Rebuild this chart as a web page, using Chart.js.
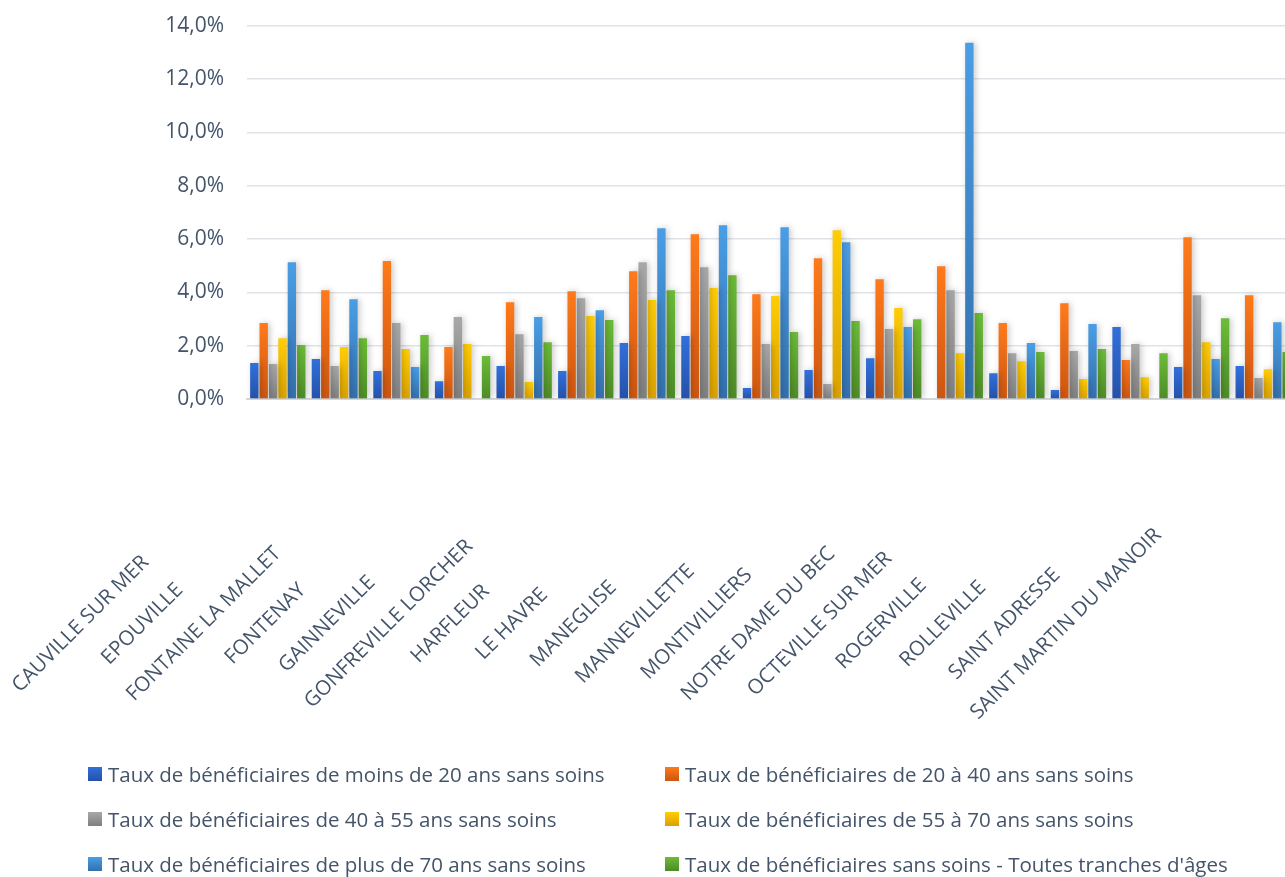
<!DOCTYPE html>
<html lang="fr">
<head>
<meta charset="utf-8">
<title>Taux de bénéficiaires sans soins</title>
<script src="https://cdn.jsdelivr.net/npm/chart.js@4/dist/chart.umd.min.js"></script>
<style>
  html, body { margin: 0; padding: 0; background: #fff; overflow: hidden; }
  #wrap { position: relative; width: 1285px; height: 877px; overflow: hidden; }
  /* le canvas déborde un peu en haut et à droite */
  #chartBox { position: absolute; left: 0; top: -10px; width: 1300px; height: 887px; }
  #legend { position: absolute; left: 0; top: 0; width: 1285px; height: 877px; pointer-events: none; }
  .leg-item { position: absolute; display: flex; align-items: center; font: 20.5px "Open Sans", sans-serif; color: #44546a; white-space: nowrap; transform: translateY(-50%); }
  .leg-box { width: 14px; height: 14px; margin-right: 6px; }
</style>
</head>
<body>
<div id="wrap">
  <div id="chartBox"><canvas id="chart"></canvas></div>
  <div id="legend"></div>
</div>
<script>
const textColor = '#44546a';

const communes = [
    'CAUVILLE SUR MER', 'EPOUVILLE', 'FONTAINE LA MALLET', 'FONTENAY', 'GAINNEVILLE',
    'GONFREVILLE LORCHER', 'HARFLEUR', 'LE HAVRE', 'MANEGLISE', 'MANNEVILLETTE',
    'MONTIVILLIERS', 'NOTRE DAME DU BEC', 'OCTEVILLE SUR MER', 'ROGERVILLE',
    'ROLLEVILLE', 'SAINT ADRESSE', 'SAINT MARTIN DU MANOIR'
];

const seriesNames = [
    'Taux de bénéficiaires de moins de 20 ans sans soins',
    'Taux de bénéficiaires de 20 à 40 ans sans soins',
    'Taux de bénéficiaires de 40 à 55 ans sans soins',
    'Taux de bénéficiaires de 55 à 70 ans sans soins',
    'Taux de bénéficiaires de plus de 70 ans sans soins',
    "Taux de bénéficiaires sans soins - Toutes tranches d'âges"
];

// taux en %
const moins20 = [1.35, 1.50, 1.05, 0.67, 1.24, 1.05, 2.10, 2.36, 0.41, 1.09, 1.53, null, 0.97, 0.34, 2.70, 1.20, 1.24];
const de20a40 = [2.85, 4.08, 5.17, 1.95, 3.63, 4.04, 4.79, 6.18, 3.93, 5.28, 4.49, 4.98, 2.85, 3.59, 1.46, 6.06, 3.89];
const de40a55 = [1.31, 1.24, 2.85, 3.07, 2.43, 3.78, 5.13, 4.94, 2.06, 0.56, 2.62, 4.08, 1.72, 1.80, 2.06, 3.89, 0.79];
const de55a70 = [2.28, 1.95, 1.87, 2.06, 0.64, 3.11, 3.71, 4.16, 3.86, 6.33, 3.41, 1.72, 1.42, 0.75, 0.82, 2.13, 1.12];
const plus70 = [5.13, 3.74, 1.20, null, 3.07, 3.33, 6.40, 6.51, 6.44, 5.88, 2.70, 13.36, 2.10, 2.81, null, 1.50, 2.88];
const toutesTranches = [2.02, 2.28, 2.40, 1.61, 2.13, 2.96, 4.08, 4.64, 2.51, 2.92, 2.99, 3.22, 1.76, 1.87, 1.72, 3.03, 1.76];

const yTicks = [0, 2, 4, 6, 8, 10, 12, 14];

// dégradé haut -> bas de chaque série
const seriesColors = [
    ['#3170dc', '#2451a8'],
    ['#ff7a1a', '#cc5510'],
    ['#a8a8a8', '#7f7f7f'],
    ['#ffcd05', '#dba100'],
    ['#4a9ee5', '#3370ad'],
    ['#6cbc38', '#4d8b27']
];

function barFill(top, bottom) {
    return (context) => {
        const chart = context.chart;
        const y = chart.scales.y;
        if (!y || context.type !== 'data' || context.raw == null) return top;
        const yTop = y.getPixelForValue(context.raw);
        const yBase = y.getPixelForValue(0);
        if (!isFinite(yTop) || !isFinite(yBase) || yTop === yBase) return top;
        const g = chart.ctx.createLinearGradient(0, yTop, 0, yBase);
        g.addColorStop(0, top);
        g.addColorStop(1, bottom);
        return g;
    };
}

// ombre portée légère sous les barres
const barShadow = {
    id: 'barShadow',
    beforeDatasetsDraw(chart) {
        const ctx = chart.ctx;
        ctx.save();
        ctx.shadowColor = 'rgba(0, 0, 0, 0.22)';
        ctx.shadowBlur = 6;
        ctx.shadowOffsetX = 2;
        ctx.shadowOffsetY = 0;
    },
    afterDatasetsDraw(chart) {
        chart.ctx.restore();
    }
};

// libellés des communes, inclinés et centrés
const communeLabels = {
    id: 'communeLabels',
    afterDraw(chart) {
        const { ctx, scales: { x } } = chart;
        ctx.save();
        ctx.font = '20.5px "Open Sans"';
        ctx.fillStyle = textColor;
        ctx.textAlign = 'center';
        ctx.textBaseline = 'middle';
        communes.forEach((name, i) => {
            ctx.save();
            ctx.translate(x.getPixelForTick(i) - 197, x.top + 225);
            ctx.rotate(-Math.PI / 4);
            ctx.fillText(name, 0, 0);
            ctx.restore();
        });
        ctx.restore();
    }
};

const values = [moins20, de20a40, de40a55, de55a70, plus70, toutesTranches];

const datasets = values.map((data, i) => ({
    label: seriesNames[i],
    data: data,
    backgroundColor: barFill(seriesColors[i][0], seriesColors[i][1]),
    borderWidth: 0,
    categoryPercentage: 0.915,
    barPercentage: 0.89
}));

Chart.defaults.font.family = '"Open Sans", sans-serif';
Chart.defaults.color = textColor;

const chart = new Chart(document.getElementById('chart'), {
    type: 'bar',
    data: { labels: communes, datasets: datasets },
    plugins: [barShadow, communeLabels],
    options: {
        responsive: true,
        maintainAspectRatio: false,
        animation: false,
        layout: { padding: { top: 15, right: 6, left: 0, bottom: 0 } },
        plugins: { legend: { display: false }, tooltip: { enabled: false } },
        scales: {
            x: {
                ticks: { display: false },
                grid: { display: false, drawTicks: false },
                border: { display: true, color: '#d3d7dc', width: 2 },
                afterFit: (scale) => { scale.height = 478; }
            },
            y: {
                min: 0,
                max: 14,
                afterBuildTicks: (scale) => { scale.ticks = yTicks.map(v => ({ value: v })); },
                ticks: {
                    padding: 23,
                    font: { size: 21 },
                    color: textColor,
                    callback: (v) => v.toFixed(1).replace('.', ',') + '%'
                },
                grid: { color: '#dfe3e8', lineWidth: 1.5, drawTicks: false },
                border: { display: false },
                afterFit: (scale) => { scale.width = 247; }
            }
        }
    }
});

// légende sur deux colonnes
function buildLegend() {
    const box = document.getElementById('legend');
    const cols = [88, 665];
    const rows = [774, 819, 864];
    chart.data.datasets.forEach((ds, i) => {
        const item = document.createElement('div');
        item.className = 'leg-item';
        item.style.left = cols[i % 2] + 'px';
        item.style.top = rows[Math.floor(i / 2)] + 'px';
        const sw = document.createElement('span');
        sw.className = 'leg-box';
        sw.style.background = 'linear-gradient(' + seriesColors[i][0] + ', ' + seriesColors[i][1] + ')';
        item.appendChild(sw);
        item.appendChild(document.createTextNode(ds.label));
        box.appendChild(item);
    });
}
buildLegend();
</script>
</body>
</html>
